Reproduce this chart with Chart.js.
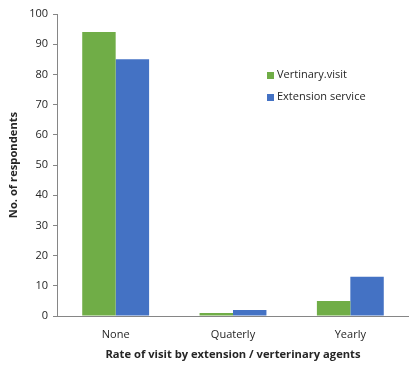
<!DOCTYPE html>
<html>
<head>
<meta charset="utf-8">
<script src="https://cdn.jsdelivr.net/npm/chart.js@4.4.0/dist/chart.umd.min.js"></script>
<style>
  html, body { margin: 0; padding: 0; background: #fff; }
  #wrap { width: 409px; height: 368px; }
</style>
</head>
<body>
<div id="wrap"><canvas id="chart" width="409" height="368"></canvas></div>
<script>
  var categories = ["None", "Quaterly", "Yearly"];
  var vetVisit = [94, 1, 5];
  var extensionService = [85, 2, 13];
  var yTicks = [0, 10, 20, 30, 40, 50, 60, 70, 80, 90, 100];

  var green = "#70ad47";
  var blue = "#4472c4";
  var axisColor = "#868686";
  var textColor = "#262626";
  var fontFamily = "'Open Sans', 'Liberation Sans', sans-serif";

  // legend sits inside the plot, Excel style
  var insideLegend = {
    id: "insideLegend",
    afterDraw(chart) {
      const ctx = chart.ctx;
      ctx.save();
      ctx.font = "11px " + fontFamily;
      ctx.textBaseline = "middle";
      chart.data.datasets.forEach((ds, i) => {
        const y = 75 + i * 22;
        ctx.fillStyle = ds.backgroundColor;
        ctx.fillRect(267, y - 3, 7, 7);
        ctx.fillStyle = textColor;
        ctx.fillText(ds.label, 277, y);
      });
      ctx.restore();
    }
  };

  new Chart(document.getElementById("chart"), {
    type: "bar",
    data: {
      labels: categories,
      datasets: [
        { label: "Vertinary.visit", data: vetVisit, backgroundColor: green },
        { label: "Extension service", data: extensionService, backgroundColor: blue }
      ]
    },
    options: {
      responsive: false,
      animation: false,
      layout: { padding: { top: 14, right: -3, left: 0, bottom: 0 } },
      datasets: { bar: { categoryPercentage: 0.57, barPercentage: 1.0 } },
      plugins: { legend: { display: false }, tooltip: { enabled: false } },
      scales: {
        x: {
          grid: { display: false },
          border: { color: axisColor, width: 1 },
          ticks: { color: textColor, font: { family: fontFamily, size: 11 }, padding: 4 },
          title: {
            display: true,
            text: "Rate of visit by extension / verterinary agents",
            color: textColor,
            font: { family: fontFamily, size: 11.2, weight: "bold" },
            padding: { top: 4, bottom: 6 }
          },
          afterFit(scale) { scale.height = 52; }
        },
        y: {
          min: 0,
          max: 100,
          afterBuildTicks(scale) { scale.ticks = yTicks.map((v) => ({ value: v })); },
          grid: { drawOnChartArea: false, tickLength: 4, color: axisColor },
          border: { color: axisColor, width: 1 },
          ticks: { color: textColor, font: { family: fontFamily, size: 11 }, padding: 5 },
          title: {
            display: true,
            text: "No. of respondents",
            color: textColor,
            font: { family: fontFamily, size: 11.2, weight: "bold" },
            padding: { top: 7 }
          },
          afterFit(scale) { scale.width = 57; }
        }
      }
    },
    plugins: [insideLegend]
  });
</script>
</body>
</html>
